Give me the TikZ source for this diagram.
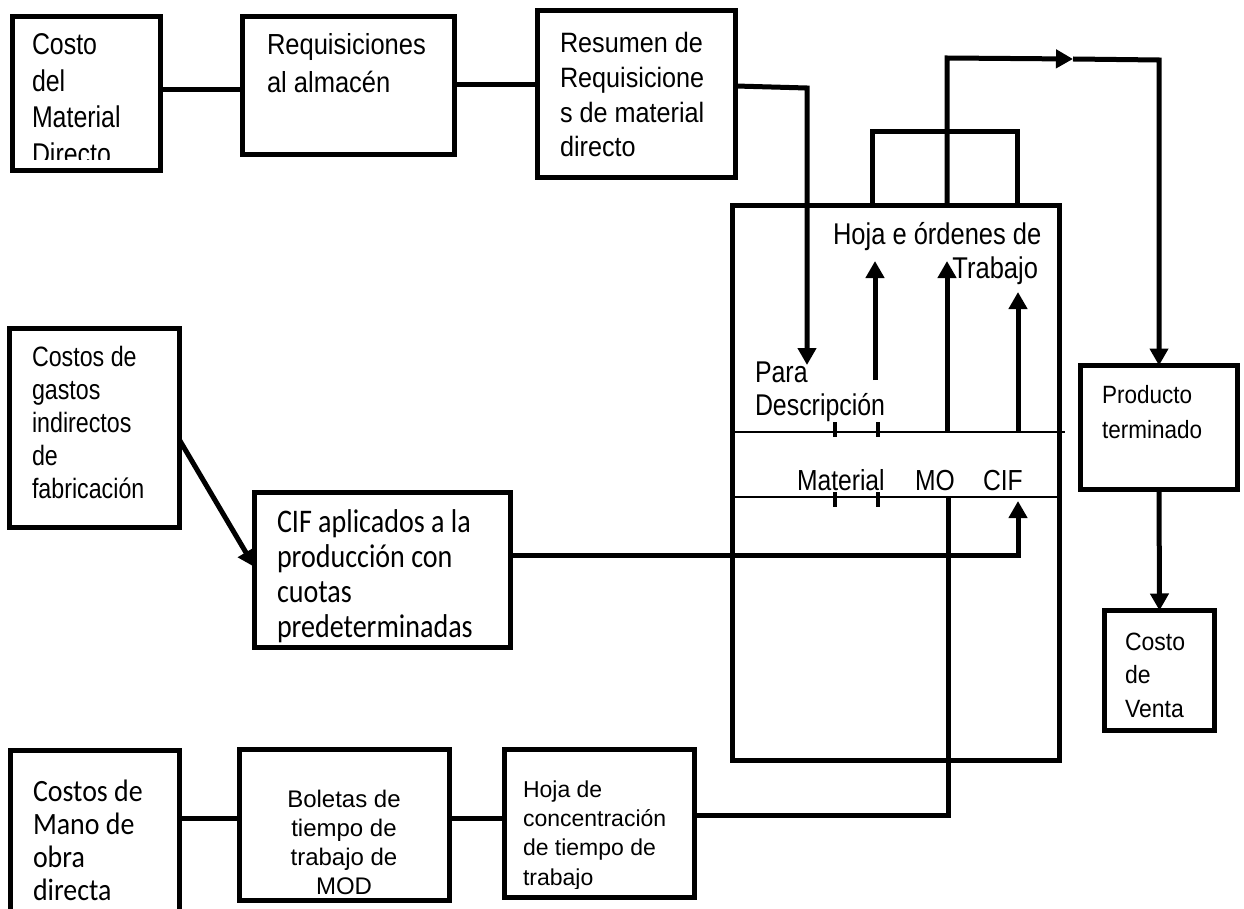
\documentclass[tikz,border=0pt]{standalone}
\usepackage{fontspec}
\setmainfont{Liberation Sans}
\newfontfamily\narA[FakeStretch=0.83]{Liberation Sans}
\newfontfamily\narB[FakeStretch=0.85]{Liberation Sans}
\newfontfamily\narC[FakeStretch=0.88]{Liberation Sans}
\newfontfamily\narD[FakeStretch=0.90]{Liberation Sans}
\newfontfamily\narE[FakeStretch=0.92]{Liberation Sans}
\newfontfamily\calA[FakeStretch=0.85]{Carlito}
\newfontfamily\calB[FakeStretch=0.90]{Carlito}
\usetikzlibrary{arrows.meta}
\begin{document}
\begin{tikzpicture}[x=1pt,y=-1pt,
  box/.style={draw, line width=5pt, rectangle, anchor=north west, inner sep=0pt, outer sep=0pt},
  conn/.style={line width=5pt},
  arr/.style={line width=5pt, -{Triangle[length=17pt,width=18pt]}},
  thinl/.style={line width=1.5pt},
  tickl/.style={line width=4pt},
  tx/.style={anchor=base west, inner sep=0pt, outer sep=0pt, align=left},
  txc/.style={anchor=base, inner sep=0pt, outer sep=0pt, align=center},
  txe/.style={anchor=base east, inner sep=0pt, outer sep=0pt},
]
\path[use as bounding box] (0,0) rectangle (1244,909);
\fill[white] (0,0) rectangle (1244,909);
\clip (0,0) rectangle (1244,909);

% ---------- boxes ----------
\node[box, minimum width=148pt, minimum height=154pt] (mat) at (12.5,16.5) {};
\node[box, minimum width=212pt, minimum height=138pt] (req) at (242.5,16.5) {};
\node[box, minimum width=198pt, minimum height=167pt] (res) at (537.5,10.5) {};
\node[box, minimum width=170pt, minimum height=199pt] (gas) at (9.5,328.5) {};
\node[box, minimum width=256pt, minimum height=155pt] (cif) at (254.5,492.5) {};
\node[box, minimum width=169pt, minimum height=180pt] (mano) at (10.5,750.5) {};
\node[box, minimum width=210pt, minimum height=150.5pt] (bol) at (239.5,749.5) {};
\node[box, minimum width=190pt, minimum height=147.5pt] (hoja) at (504.5,749.5) {};
\node[box, minimum width=327pt, minimum height=555pt] (big) at (732.5,205.5) {};
\node[box, minimum width=157pt, minimum height=124pt] (prod) at (1080.5,365.5) {};
\node[box, minimum width=110pt, minimum height=120pt] (venta) at (1104.5,610.5) {};

% ---------- box texts (anchor = baseline of the last line) ----------
\begin{scope}
\clip (15,19) rectangle (158,160);
\node[tx, font=\narA\fontsize{30}{36.5}\selectfont] (tmat) at (32,164.5) {Costo\\del\\Material\\Directo};
\end{scope}
\node[tx, font=\narC\fontsize{29}{38}\selectfont] (treq) at (267,93) {Requisiciones\\al almacén};
\node[tx, font=\narD\fontsize{28}{34.7}\selectfont] (tres) at (560,157) {Resumen de\\Requisicione\\s de material\\directo};
\node[tx, font=\narA\fontsize{28}{32.8}\selectfont] (tgas) at (32,498) {Costos de\\gastos\\indirectos\\de\\fabricación};
\node[tx, font=\calA\fontsize{33}{34.7}\selectfont] (tcif) at (277,637) {CIF aplicados a la\\producción con\\cuotas\\predeterminadas};
\node[tx, font=\calB\fontsize{31}{32.7}\selectfont] (tmano) at (33,900) {Costos de\\Mano de\\obra\\directa};
\node[txc, font=\fontsize{24}{29}\selectfont] (tbol) at (344,894) {Boletas de\\tiempo de\\trabajo de\\MOD};
\begin{scope}
\clip (507,752) rectangle (692,888);
\node[tx, font=\fontsize{23}{29.3}\selectfont] (thoja) at (523,885) {Hoja de\\concentración\\de tiempo de\\trabajo};
\end{scope}
\node[tx, font=\narD\fontsize{25}{35}\selectfont] (tprod) at (1102,438) {Producto\\terminado};
\node[tx, font=\narE\fontsize{25}{33.5}\selectfont] (tventa) at (1125,717) {Costo\\de\\Venta};

% ---------- texts inside the job sheet ----------
\node[tx, font=\narB\fontsize{30}{33}\selectfont] (thoja2) at (833,245) {Hoja e órdenes de};
\node[txe, font=\narB\fontsize{30}{33}\selectfont] (ttrab) at (1038,278) {Trabajo};
\node[tx, font=\narA\fontsize{30}{33}\selectfont] (tpara) at (755,382) {Para};
\node[tx, font=\narA\fontsize{30}{33}\selectfont] (tdesc) at (755,415) {Descripción};
\node[tx, font=\narB\fontsize{29}{33}\selectfont] (tmatl) at (797,490) {Material};
\node[tx, font=\narB\fontsize{29}{33}\selectfont] (tmo) at (915,490) {MO};
\node[tx, font=\narB\fontsize{29}{33}\selectfont] (tcifl) at (983,490) {CIF};

% ---------- thin rules and ticks ----------
\coordinate (r1a) at (735,432); \coordinate (r1b) at (1065,432);
\coordinate (r2a) at (735,497); \coordinate (r2b) at (1060,497);
\draw[thinl] (r1a) -- (r1b);
\draw[thinl] (r2a) -- (r2b);
\coordinate (k1) at (835,422); \coordinate (k1e) at (835,437);
\coordinate (k2) at (878,422); \coordinate (k2e) at (878,437);
\coordinate (k3) at (835,492); \coordinate (k3e) at (835,507);
\coordinate (k4) at (878,492); \coordinate (k4e) at (878,507);
\draw[tickl] (k1) -- (k1e);
\draw[tickl] (k2) -- (k2e);
\draw[tickl] (k3) -- (k3e);
\draw[tickl] (k4) -- (k4e);

% ---------- connectors ----------
\draw[conn] (mat.east |- 0,90) -- (req.west |- 0,90);
\draw[conn] (req.east |- 0,85) -- (res.west |- 0,85);
\coordinate (resTurn) at (807,88);
\coordinate (paraTip) at (807,365);
\draw[arr] (res.east |- 0,86) -- (resTurn) -- (paraTip);

\coordinate (loopL) at (872,132);
\coordinate (loopR) at (1017,132);
\coordinate (topM) at (947,58);
\coordinate (topArr) at (1073,59);
\coordinate (topR) at (1159,60);
\draw[conn] (loopL |- big.north) -- (loopL) -- (loopR) -- (loopR |- big.north);
\draw[arr] (topM |- big.north) -- (topM) -- (topArr);
\draw[arr] (topArr) -- (topR) -- (prod.north);
\draw[arr] (prod.south) -- (venta.north);

% up arrows inside the job sheet
\coordinate (u1s) at (875,380); \coordinate (u1e) at (875,261);
\coordinate (u2s) at (947,432); \coordinate (u2e) at (947,261);
\coordinate (u3s) at (1018,432); \coordinate (u3e) at (1018,292);
\draw[arr] (u1s) -- (u1e);
\draw[arr] (u2s) -- (u2e);
\draw[arr] (u3s) -- (u3e);

% CIF applied
\draw[arr] (gas.east |- 0,440) -- (cif.west |- 0,567);
\coordinate (cifTurn) at (1018,555);
\coordinate (cifTip) at (1018,501);
\draw[arr] (cif.east |- 0,555) -- (cifTurn) -- (cifTip);

% bottom row
\draw[conn] (mano.east |- 0,818) -- (bol.west |- 0,818);
\draw[conn] (bol.east |- 0,818) -- (hoja.west |- 0,818);
\coordinate (moTurn) at (948,815);
\coordinate (moEnd) at (948,498);
\draw[conn] (hoja.east |- 0,815) -- (moTurn) -- (moEnd);
\end{tikzpicture}
\end{document}
